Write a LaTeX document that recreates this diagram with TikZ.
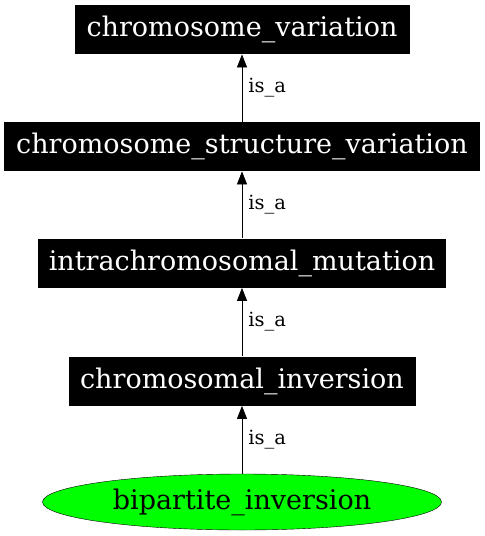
\documentclass[tikz,border=0pt]{standalone}
\usepackage{fontspec}
\setmainfont{DejaVu Serif}
\usetikzlibrary{arrows.meta,shapes.geometric}

\begin{document}
\begin{tikzpicture}[x=1pt,y=-1pt,>={Triangle[length=13pt,width=10pt]},thick]
  \tikzset{term/.style={fill=black,text=white,inner sep=0pt,minimum height=49pt,font=\fontsize{27}{31}\selectfont},
    leaf/.style={ellipse,draw=black,thin,fill=green,inner sep=0pt,minimum width=399pt,minimum height=56pt,font=\fontsize{27}{31}\selectfont},
    rel/.style={right,inner sep=0pt,xshift=6pt,font=\fontsize{19.5}{23}\selectfont}}
  \useasboundingbox (0,0) rectangle (485,536);
  \node[term,minimum width=335pt] (cv) at (242,29.5) {chromosome\_variation};
  \node[term,minimum width=476pt] (csv) at (242,146.5) {chromosome\_structure\_variation};
  \node[term,minimum width=408pt] (im) at (242,263) {intrachromosomal\_mutation};
  \node[term,minimum width=347pt] (ci) at (242,381) {chromosomal\_inversion};
  \node[leaf] (bi) at (242,502) {bipartite\_inversion};
  \path[->] (csv) edge node[rel] {is\_a} (cv);
  \path[->] (im)  edge node[rel] {is\_a} (csv);
  \path[->] (ci)  edge node[rel] {is\_a} (im);
  \path[->] (bi)  edge node[rel] {is\_a} (ci);
\end{tikzpicture}
\end{document}
